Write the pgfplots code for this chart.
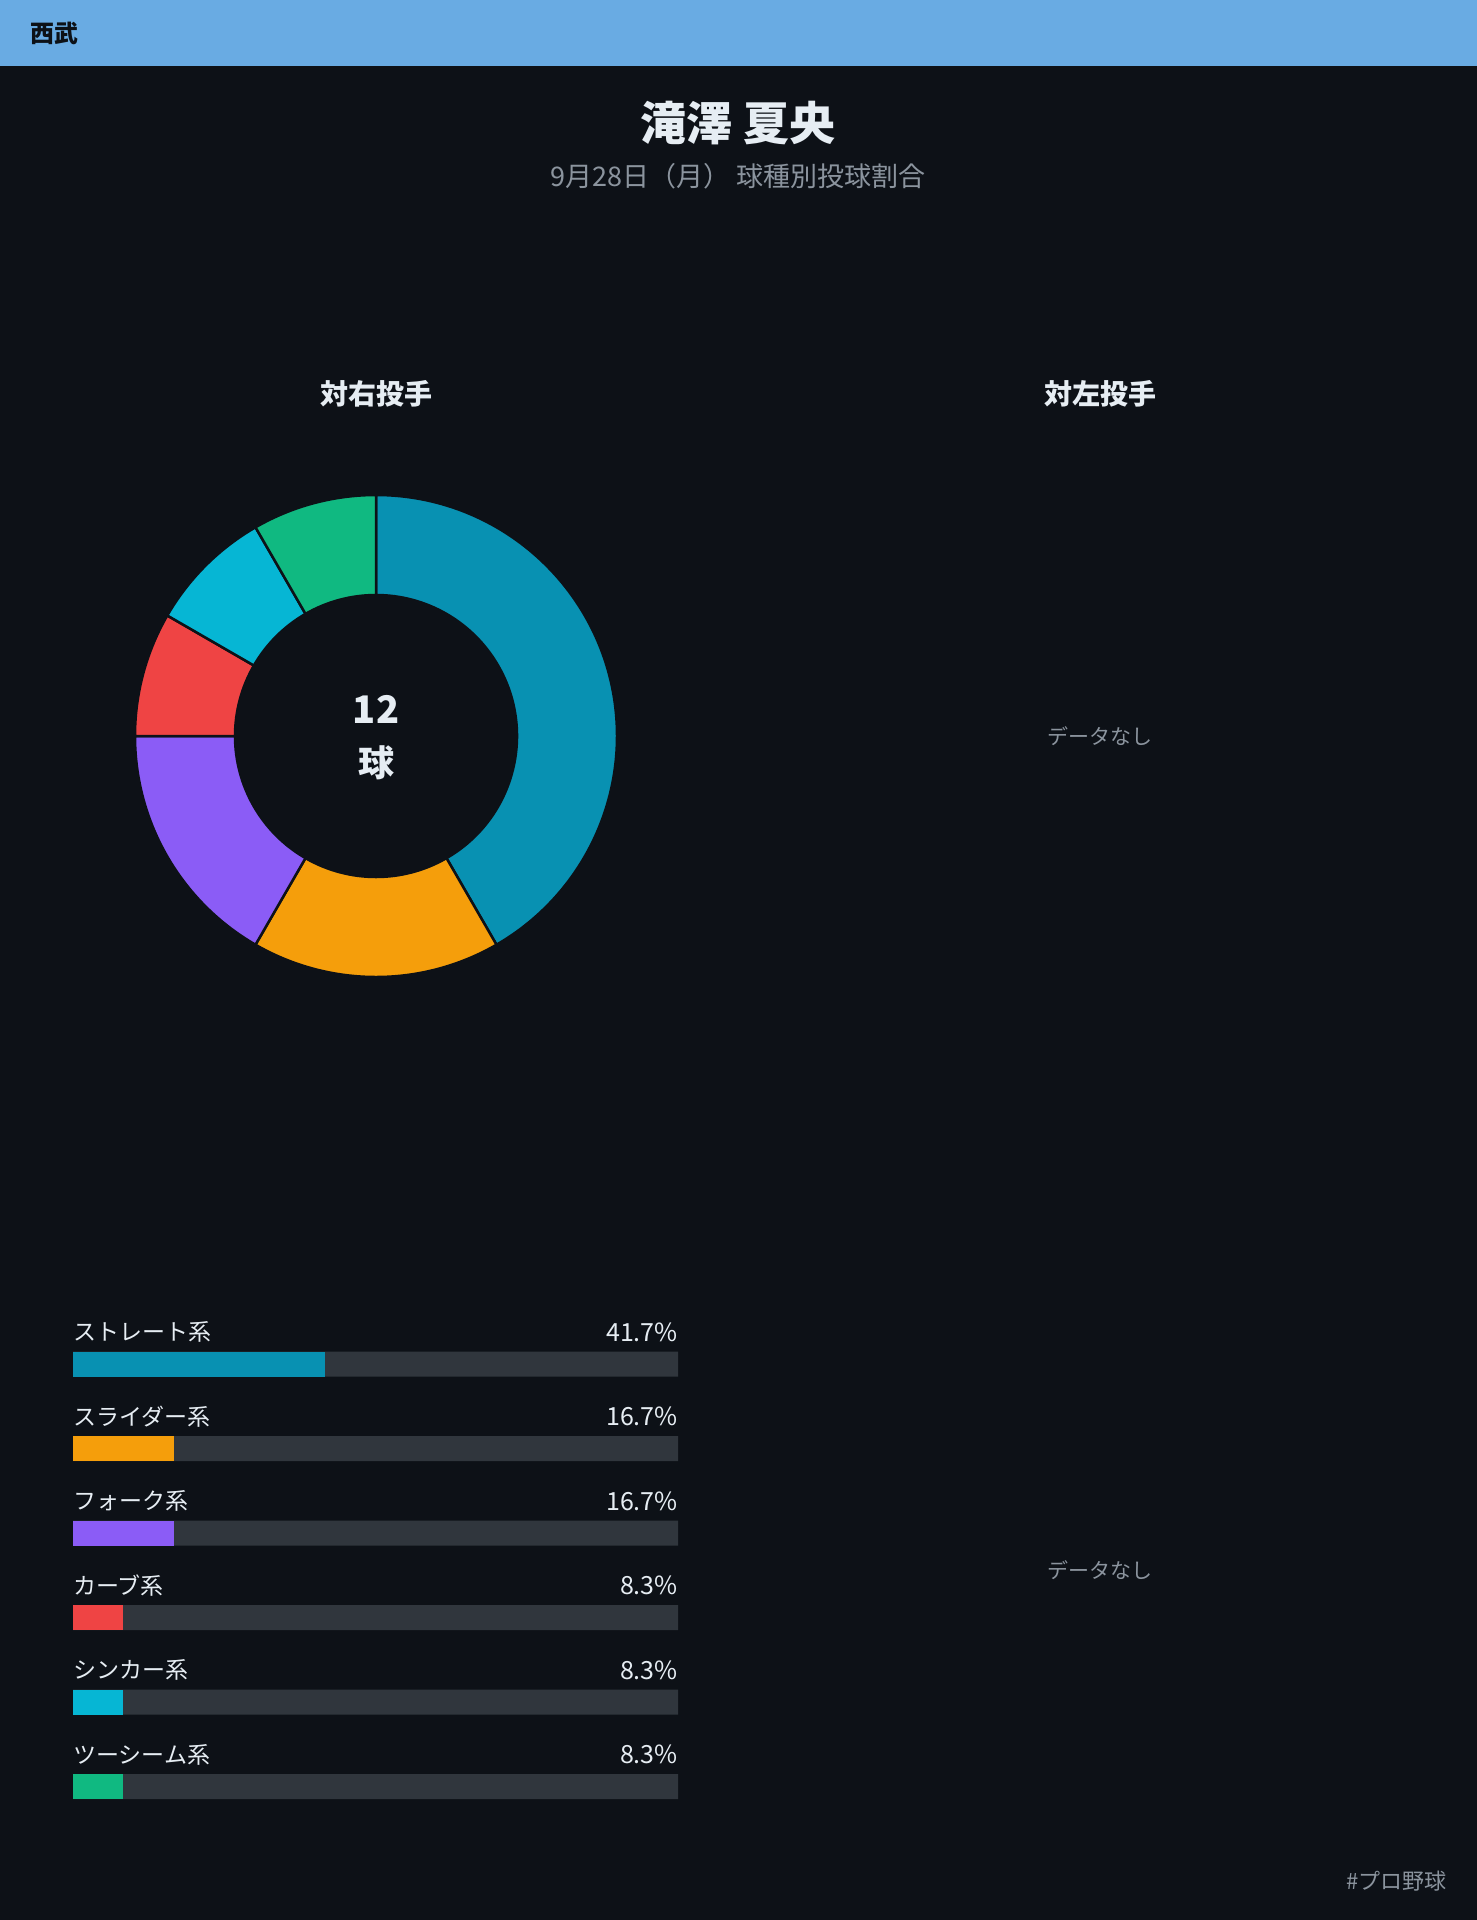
\documentclass[border=0pt]{standalone}
\usepackage{fontspec}
\setmainfont{Noto Sans CJK JP}
\usepackage{pgfplots}
\usepackage{pgfplotstable}
\pgfplotsset{compat=1.18}

\definecolor{bg}{HTML}{0D1117}
\definecolor{hdr}{HTML}{69ABE3}
\definecolor{track}{HTML}{30363D}
\definecolor{txt}{HTML}{E6EDF3}
\definecolor{gry}{HTML}{8B949E}
\definecolor{cStraight}{HTML}{0891B2}
\definecolor{cSlider}{HTML}{F59E0B}
\definecolor{cFork}{HTML}{8B5CF6}
\definecolor{cCurve}{HTML}{EF4444}
\definecolor{cSinker}{HTML}{06B6D4}
\definecolor{cTwo}{HTML}{10B981}

\pgfplotstableread[col sep=comma]{
name,count,pct,col
ストレート系,5,41.7,cStraight
スライダー系,2,16.7,cSlider
フォーク系,2,16.7,cFork
カーブ系,1,8.3,cCurve
シンカー系,1,8.3,cSinker
ツーシーム系,1,8.3,cTwo
}\pitches

\begin{document}
\begin{tikzpicture}
\useasboundingbox (0,0) rectangle (1477pt,-1920pt);
\fill[bg] (0,0) rectangle (1477pt,-1920pt);
\fill[hdr] (0,0) rectangle (1477pt,-66pt);
\node[anchor=west, inner sep=0, font=\fontsize{24}{28}\selectfont\bfseries, text=bg] at (30pt,-33pt) {西武};
\node[inner sep=0, font=\fontsize{46}{52}\selectfont\bfseries, text=txt] at (738pt,-123pt) {滝澤 夏央};
\node[inner sep=0, font=\fontsize{27}{30}\selectfont, text=gry] at (738pt,-176pt) {9月28日（月） 球種別投球割合};
\node[inner sep=0, font=\fontsize{28}{32}\selectfont\bfseries, text=txt] at (376pt,-394pt) {対右投手};
\node[inner sep=0, font=\fontsize{28}{32}\selectfont\bfseries, text=txt] at (1100pt,-394pt) {対左投手};

% angles from counts
\gdef\tot{0}
\foreach \i in {0,...,5}{%
  \pgfplotstablegetelem{\i}{count}\of\pitches
  \pgfmathsetmacro\tmpsum{\tot+\pgfplotsretval}%
  \xdef\tot{\tmpsum}%
}
\gdef\curang{90}
\foreach \i in {0,...,5}{%
  \pgfplotstablegetelem{\i}{count}\of\pitches
  \pgfmathsetmacro\nextang{\curang-360*\pgfplotsretval/\tot}%
  \expandafter\xdef\csname sA\i\endcsname{\curang}%
  \expandafter\xdef\csname sB\i\endcsname{\nextang}%
  \pgfplotstablegetelem{\i}{col}\of\pitches
  \expandafter\xdef\csname sC\i\endcsname{\pgfplotsretval}%
  \xdef\curang{\nextang}%
}

\begin{axis}[at={(376pt,-736pt)}, anchor=origin, x=1pt, y=1pt,
  xmin=-250, xmax=250, ymin=-250, ymax=250, hide axis, clip=false]
\pgfplotsinvokeforeach{0,...,5}{%
  \edef\doslice{\noexpand\fill[\csname sC#1\endcsname, draw=bg, line width=2.5pt, line join=round]
    (axis cs:0,0) ++(\csname sA#1\endcsname:241pt)
    arc[start angle=\csname sA#1\endcsname, end angle=\csname sB#1\endcsname, radius=241pt]
    -- ++(\csname sB#1\endcsname+180:100pt)
    arc[start angle=\csname sB#1\endcsname, end angle=\csname sA#1\endcsname, radius=141pt]
    -- cycle;}%
  \doslice
}
\end{axis}

\node[inner sep=0, font=\fontsize{38}{42}\selectfont\bfseries, text=txt] at (376pt,-709pt) {12};
\node[inner sep=0, font=\fontsize{36}{40}\selectfont\bfseries, text=txt] at (376pt,-763pt) {球};
\node[inner sep=0, font=\fontsize{21}{24}\selectfont, text=gry] at (1100pt,-736pt) {データなし};
\node[inner sep=0, font=\fontsize{21}{24}\selectfont, text=gry] at (1100pt,-1570pt) {データなし};

\begin{axis}[at={(73pt,-1364pt)}, anchor=origin, x=6.05pt, y=84.5pt, y dir=reverse,
  xmin=0, xmax=100, ymin=-0.5, ymax=5.5, hide axis, clip=false,
  xbar, bar width=25pt, bar shift=0pt]
\addplot[fill=track, draw=none] coordinates {(100,0) (100,1) (100,2) (100,3) (100,4) (100,5)};
\addplot[fill=cStraight, draw=none] coordinates {(41.7,0)};
\addplot[fill=cSlider, draw=none] coordinates {(16.7,1)};
\addplot[fill=cFork, draw=none] coordinates {(16.7,2)};
\addplot[fill=cCurve, draw=none] coordinates {(8.3,3)};
\addplot[fill=cSinker, draw=none] coordinates {(8.3,4)};
\addplot[fill=cTwo, draw=none] coordinates {(8.3,5)};
\end{axis}

\foreach \i in {0,...,5}{%
  \pgfplotstablegetelem{\i}{name}\of\pitches \let\nm\pgfplotsretval
  \pgfplotstablegetelem{\i}{pct}\of\pitches \let\pc\pgfplotsretval
  \pgfmathsetmacro\yy{-(1332+84.5*\i)}%
  \node[anchor=west, inner sep=0, font=\fontsize{23}{26}\selectfont, text=txt] at (73pt,\yy pt) {\nm};
  \node[anchor=east, inner sep=0, font=\fontsize{25}{27}\selectfont, text=txt] at (678pt,\yy pt) {\pc\%};
}

\node[anchor=east, inner sep=0, font=\fontsize{22}{24}\selectfont, text=gry] at (1447pt,-1881pt) {\#プロ野球};
\end{tikzpicture}
\end{document}
